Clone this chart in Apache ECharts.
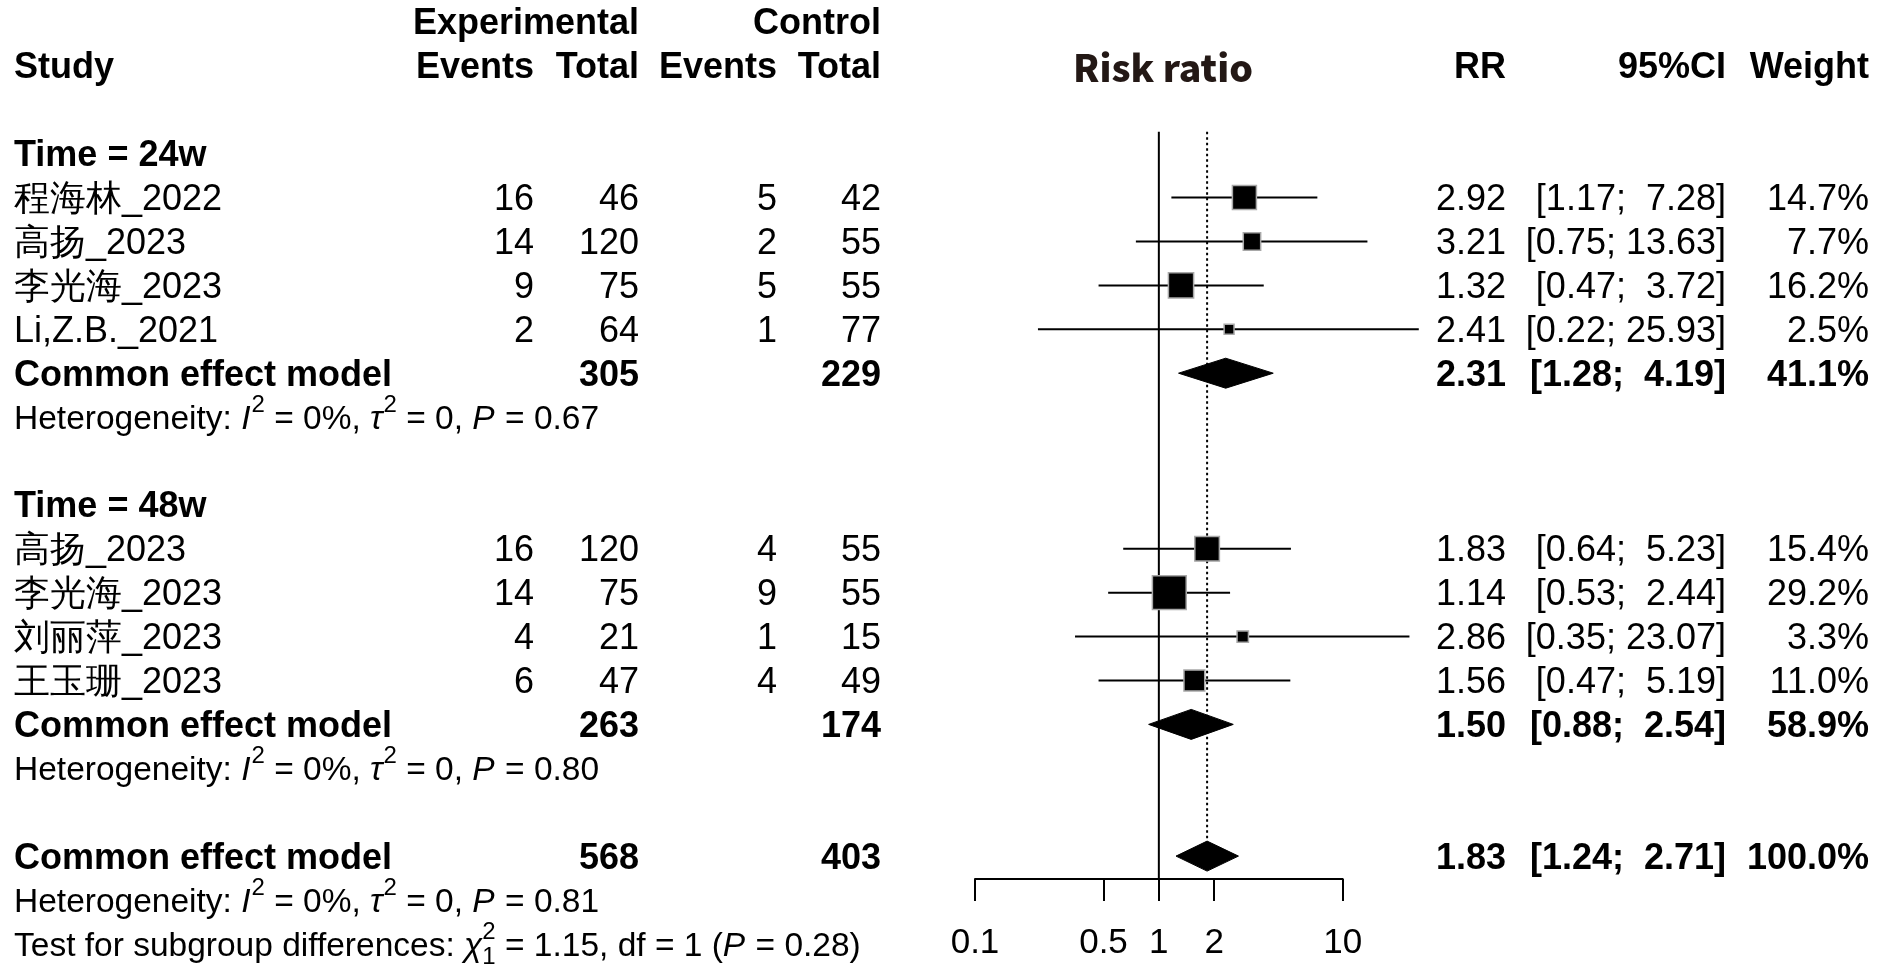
<!DOCTYPE html>
<html><head><meta charset="utf-8">
<script src="https://cdn.jsdelivr.net/npm/echarts@6/dist/echarts.min.js"></script>
<style>html,body{margin:0;padding:0;background:#fff}#c{width:1890px;height:979px}</style>
</head><body><div id="c"></div>
<script>
// ---------------- DATA ----------------
const studies24 = ['程海林_2022', '高扬_2023', '李光海_2023', 'Li,Z.B._2021'];
const expEvents24 = [16, 14, 9, 2];
const expTotal24 = [46, 120, 75, 64];
const ctrlEvents24 = [5, 2, 5, 1];
const ctrlTotal24 = [42, 55, 55, 77];
const rr24 = [2.92, 3.21, 1.32, 2.41];
const lo24 = [1.17, 0.75, 0.47, 0.22];
const hi24 = [7.28, 13.63, 3.72, 25.93];
const w24 = [14.7, 7.7, 16.2, 2.5];

const studies48 = ['高扬_2023', '李光海_2023', '刘丽萍_2023', '王玉珊_2023'];
const expEvents48 = [16, 14, 4, 6];
const expTotal48 = [120, 75, 21, 47];
const ctrlEvents48 = [4, 9, 1, 4];
const ctrlTotal48 = [55, 55, 15, 49];
const rr48 = [1.83, 1.14, 2.86, 1.56];
const lo48 = [0.64, 0.53, 0.35, 0.47];
const hi48 = [5.23, 2.44, 23.07, 5.19];
const w48 = [15.4, 29.2, 3.3, 11.0];

const groupLabels = ['Time = 24w', 'Time = 48w'];
const pooledExpTotal = [305, 263, 568];
const pooledCtrlTotal = [229, 174, 403];
const pooledRR = [2.31, 1.50, 1.83];
const pooledLo = [1.28, 0.88, 1.24];
const pooledHi = [4.19, 2.54, 2.71];
const pooledW = [41.1, 58.9, 100.0];
const hetI2 = ['0%', '0%', '0%'];
const hetTau2 = ['0', '0', '0'];
const hetP = ['0.67', '0.80', '0.81'];
const subgroupChi2 = '1.15';
const subgroupDf = '1';
const subgroupP = '0.28';

const tickValues = [0.1, 0.5, 1, 2, 10];

// ---------------- LAYOUT / STYLE ----------------
const FAM = '"Liberation Sans", Arial, sans-serif';
const FS = 36, HFS = 33.5, SUPFS = 24;
const TDY = 2.5;      // text vertical nudge
const COL = { study: 14, expEv: 534, expTot: 639, ctrlEv: 777, ctrlTot: 881, rr: 1506, ci: 1726, w: 1869, rrHead: 1163 };
const SQ = 6.26;      // square side per sqrt(weight %)
const DIAM_H = 15;    // half height of diamonds
const ROWH = 43.9;

const cv = document.createElement('canvas');
const ctx = cv.getContext('2d');
function fontOf(s) {
  const size = (s.k === 'sup' || s.k === 'sub') ? SUPFS : HFS;
  return (s.i ? 'italic ' : '') + (s.b ? 'bold ' : '') + size + 'px ' + FAM;
}
function measure(t, f) { ctx.font = f; return ctx.measureText(t).width; }

function pad(s, n) { while (s.length < n) s = ' ' + s; return s; }
const allHi = hi24.concat(hi48, pooledHi);
const hiW = Math.max.apply(null, allHi.map(v => v.toFixed(2).length));
function ciText(lo, hi) { return '[' + lo.toFixed(2) + '; ' + pad(hi.toFixed(2), hiW) + ']'; }

// ---------------- TABLE ROWS ----------------
const rows = [];
function cell(text, x, align, bold, extra) { return Object.assign({ text: String(text), x, align, bold }, extra || {}); }
rows.push({ row: 0, cells: [cell('Experimental', COL.expTot, 'right', true), cell('Control', COL.ctrlTot, 'right', true)] });
rows.push({ row: 1, cells: [
  cell('Study', COL.study, 'left', true), cell('Events', COL.expEv, 'right', true), cell('Total', COL.expTot, 'right', true),
  cell('Events', COL.ctrlEv, 'right', true), cell('Total', COL.ctrlTot, 'right', true),
  cell('Risk ratio', COL.rrHead, 'center', true, { color: '#231815', font: '900 37px "Noto Sans CJK SC", "Noto Sans", sans-serif', fitW: 180 }),
  cell('RR', COL.rr, 'right', true), cell('95%CI', COL.ci, 'right', true), cell('Weight', COL.w, 'right', true)] });

function hetSegs(g) {
  return [{ t: 'Heterogeneity: ' }, { t: 'I', i: true }, { t: '2', k: 'sup' }, { t: ' = ' + hetI2[g] + ', ' },
    { t: 'τ', i: true }, { t: '2', k: 'sup' }, { t: ' = ' + hetTau2[g] + ', ' }, { t: 'P', i: true }, { t: ' = ' + hetP[g] }];
}
const studyRows = [];
function pooledCells(g) {
  return [cell('Common effect model', COL.study, 'left', true), cell(pooledExpTotal[g], COL.expTot, 'right', true),
    cell(pooledCtrlTotal[g], COL.ctrlTot, 'right', true), cell(pooledRR[g].toFixed(2), COL.rr, 'right', true),
    cell(ciText(pooledLo[g], pooledHi[g]), COL.ci, 'right', true), cell(pooledW[g].toFixed(1) + '%', COL.w, 'right', true)];
}
function addGroup(g, startRow, names, ee, et, ce, ct, rr, lo, hi, w) {
  rows.push({ row: startRow, cells: [cell(groupLabels[g], COL.study, 'left', true)] });
  names.forEach((n, i) => {
    const r = startRow + 1 + i;
    rows.push({ row: r, cells: [cell(n, COL.study, 'left'), cell(ee[i], COL.expEv, 'right'), cell(et[i], COL.expTot, 'right'),
      cell(ce[i], COL.ctrlEv, 'right'), cell(ct[i], COL.ctrlTot, 'right'), cell(rr[i].toFixed(2), COL.rr, 'right'),
      cell(ciText(lo[i], hi[i]), COL.ci, 'right'), cell(w[i].toFixed(1) + '%', COL.w, 'right')] });
    studyRows.push([rr[i], r, lo[i], hi[i], w[i]]);
  });
  const pr = startRow + 1 + names.length;
  rows.push({ row: pr, cells: pooledCells(g) });
  rows.push({ row: pr + 1, cells: [{ segs: hetSegs(g), x: COL.study }] });
  return pr;
}
const pooledRows = [];
pooledRows.push(addGroup(0, 3, studies24, expEvents24, expTotal24, ctrlEvents24, ctrlTotal24, rr24, lo24, hi24, w24));
pooledRows.push(addGroup(1, 11, studies48, expEvents48, expTotal48, ctrlEvents48, ctrlTotal48, rr48, lo48, hi48, w48));
const overallRow = 19;
pooledRows.push(overallRow);
rows.push({ row: overallRow, cells: pooledCells(2) });
rows.push({ row: overallRow + 1, cells: [{ segs: hetSegs(2), x: COL.study }] });
rows.push({ row: overallRow + 2, cells: [{ segs: [{ t: 'Test for subgroup differences: ' }, { t: 'χ', i: true },
  { t: '2', k: 'sup', stack: true }, { t: subgroupDf, k: 'sub' },
  { t: ' = ' + subgroupChi2 + ', df = ' + subgroupDf + ' (' }, { t: 'P', i: true }, { t: ' = ' + subgroupP + ')' }], x: COL.study }] });

const pooledData = pooledRR.map((v, i) => [v, pooledRows[i], pooledLo[i], pooledHi[i]]);

// ---------------- CHART ----------------
const chart = echarts.init(document.getElementById('c'), null, { renderer: 'canvas' });
const axisTop = 2.5;            // row where reference lines start
const yMax = 857 / ROWH;        // row at the x axis line

chart.setOption({
  animation: false,
  backgroundColor: '#fff',
  grid: { left: 975, right: 547.3, top: 22, height: 857 },
  xAxis: {
    type: 'log', logBase: 10, min: 0.1, max: 10, position: 'bottom',
    axisLine: { show: true, onZero: false, lineStyle: { color: '#000', width: 2 } },
    axisTick: { show: true, length: 22, customValues: tickValues, lineStyle: { color: '#000', width: 2 } },
    axisLabel: { customValues: tickValues, margin: 47, color: '#000', fontSize: 35, fontFamily: FAM,
      formatter: v => String(+(+v).toPrecision(3)) },
    splitLine: { show: false }, minorTick: { show: false }
  },
  yAxis: { type: 'value', min: 0, max: yMax, inverse: true, show: false },
  series: [
    { // reference lines
      type: 'custom', silent: true, data: [[1, 0]],
      renderItem: (p, api) => {
        const a = api.coord([1, axisTop]), b = api.coord([1, yMax]);
        const c = api.coord([pooledRR[2], axisTop]), d = api.coord([pooledRR[2], overallRow]);
        return { type: 'group', children: [
          { type: 'line', shape: { x1: a[0], y1: a[1], x2: b[0], y2: b[1] }, style: { stroke: '#000', lineWidth: 2 } },
          { type: 'line', shape: { x1: c[0], y1: c[1], x2: d[0], y2: d[1] - DIAM_H }, style: { stroke: '#000', lineWidth: 2, lineDash: [2.5, 3] } }
        ] };
      }
    },
    { // study CIs and squares
      type: 'custom', silent: true, data: studyRows,
      renderItem: (p, api) => {
        const c = api.coord([api.value(0), api.value(1)]);
        const l = api.coord([api.value(2), api.value(1)]);
        const h = api.coord([api.value(3), api.value(1)]);
        const s = SQ * Math.sqrt(api.value(4));
        return { type: 'group', children: [
          { type: 'line', shape: { x1: l[0], y1: l[1], x2: h[0], y2: h[1] }, style: { stroke: '#000', lineWidth: 2 } },
          { type: 'rect', shape: { x: c[0] - s / 2, y: c[1] - s / 2, width: s, height: s }, style: { fill: '#000', stroke: '#a8a8a8', lineWidth: 1.5 } }
        ] };
      }
    },
    { // pooled diamonds
      type: 'custom', silent: true, data: pooledData,
      renderItem: (p, api) => {
        const c = api.coord([api.value(0), api.value(1)]);
        const l = api.coord([api.value(2), api.value(1)]);
        const h = api.coord([api.value(3), api.value(1)]);
        return { type: 'polygon', shape: { points: [[l[0], c[1]], [c[0], c[1] - DIAM_H], [h[0], c[1]], [c[0], c[1] + DIAM_H]] },
          style: { fill: '#000', stroke: '#000', lineWidth: 1 } };
      }
    },
    { // table text
      type: 'custom', silent: true, data: rows.map(r => [1, r.row]),
      renderItem: (p, api) => {
        const r = rows[p.dataIndex];
        const y = api.coord([1, r.row])[1] + TDY;
        const ch = [];
        r.cells.forEach(c => {
          if (c.segs) {
            let x = c.x;
            c.segs.forEach(s => {
              const f = fontOf(s);
              const dy = s.k === 'sup' ? -14 : (s.k === 'sub' ? 11 : 0);
              ch.push({ type: 'text', x: x, y: y + dy, style: { text: s.t, font: f, fill: '#000', align: 'left', verticalAlign: 'middle' } });
              if (!s.stack) x += measure(s.t, f) + (s.i && s.t !== 'χ' && s.k !== 'sup' ? 1 : 0);
            });
          } else {
            const f = c.font || ((c.bold ? 'bold ' : '') + FS + 'px ' + FAM);
            const el = { type: 'text', x: c.x, y: y, style: { text: c.text, font: f, fill: c.color || '#000', align: c.align, verticalAlign: 'middle' } };
            if (c.fitW) { el.scaleX = c.fitW / measure(c.text, f); }
            ch.push(el);
          }
        });
        return { type: 'group', children: ch };
      }
    }
  ]
});
</script></body></html>
